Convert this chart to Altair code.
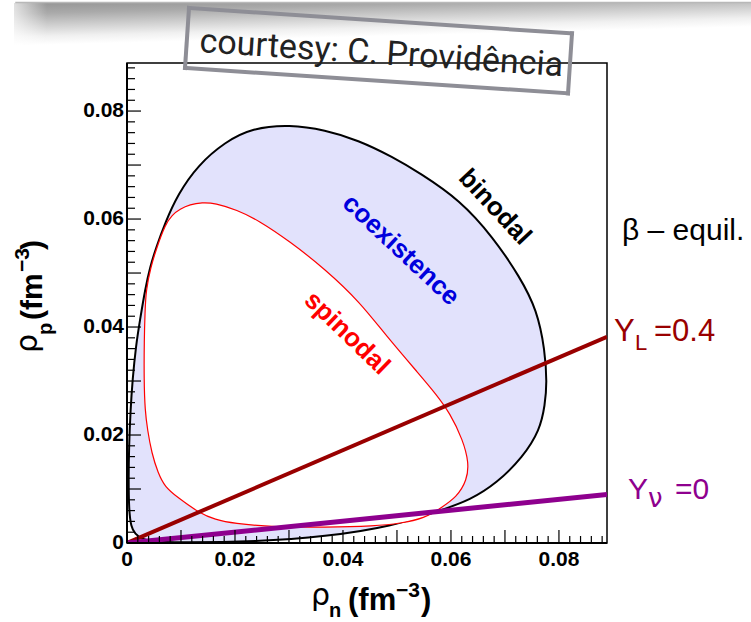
import altair as alt
import pandas as pd

# Binodal boundary, traced once around the closed curve: (rho_n, rho_p) in fm^-3
binodal_n = [0.00463, 0.00278, 0.00148, 0.00074, 0.00037, 0.00028, 0.00037, 0.00065, 0.00102, 0.00167,
             0.00241, 0.00333, 0.00426, 0.00537, 0.00704, 0.00944, 0.01315, 0.01815, 0.02315, 0.03019,
             0.03667, 0.04278, 0.04926, 0.05426, 0.06167, 0.06778, 0.07278, 0.07593, 0.07741, 0.07778,
             0.07741, 0.07648, 0.07333, 0.06852, 0.06352, 0.05833, 0.04907, 0.03667, 0.02426, 0.00889]
binodal_p = [0.00028, 0.00074, 0.00167, 0.00296, 0.00611, 0.01167, 0.01778, 0.02463, 0.03019, 0.03667,
             0.04130, 0.04685, 0.05111, 0.05463, 0.05926, 0.06463, 0.07000, 0.07426, 0.07685, 0.07750,
             0.07648, 0.07463, 0.07148, 0.06852, 0.06352, 0.05667, 0.04926, 0.04315, 0.03574, 0.02963,
             0.02556, 0.02093, 0.01593, 0.01111, 0.00796, 0.00611, 0.00306, 0.00117, 0.00024, 0.00006]

# Spinodal boundary, same orientation
spinodal_n = [0.01352, 0.00926, 0.00704, 0.00574, 0.00457, 0.00380, 0.00333, 0.00315, 0.00319, 0.00333,
              0.00352, 0.00441, 0.00548, 0.00713, 0.00833, 0.00981, 0.01167, 0.01389, 0.01630, 0.02037,
              0.02426, 0.03019, 0.03667, 0.04315, 0.04833, 0.05426, 0.05722, 0.05981, 0.06222, 0.06333,
              0.06296, 0.06111, 0.05796, 0.05519, 0.05056, 0.04593, 0.03667, 0.02741, 0.01963, 0.01630]
spinodal_p = [0.00546, 0.00852, 0.01037, 0.01296, 0.01667, 0.02093, 0.02463, 0.03019, 0.03759, 0.04259,
              0.04685, 0.05111, 0.05463, 0.05907, 0.06074, 0.06185, 0.06269, 0.06306, 0.06296, 0.06167,
              0.05981, 0.05583, 0.05074, 0.04463, 0.03796, 0.03111, 0.02759, 0.02407, 0.01907, 0.01481,
              0.01167, 0.00852, 0.00639, 0.00463, 0.00361, 0.00315, 0.00291, 0.00296, 0.00361, 0.00435]

# beta-equilibrium trajectories
eq_n = [0.0, 0.0889]
yl_p = [0.0, 0.0382]    # Y_L = 0.4
ynu_p = [0.0, 0.0090]   # Y_nu = 0

AXIS_MAX = 0.0889
label_values = [0.0, 0.02, 0.04, 0.06, 0.08]
label_texts = ["0", "0.02", "0.04", "0.06", "0.08"]
major_ticks = [0.0, 0.01, 0.02, 0.03, 0.04, 0.05, 0.06, 0.07, 0.08]
minor_ticks = [round(0.002 * k, 3) for k in range(45) if k % 5 != 0]

W = H = 480
PAD = {"left": 127, "top": 63, "right": 144, "bottom": 79}
FONT = "Liberation Sans"

xs = alt.Scale(domain=[0, AXIS_MAX], nice=False, zero=False)
ys = alt.Scale(domain=[0, AXIS_MAX], nice=False, zero=False)


def X(field):
    return alt.X(field, scale=xs, axis=None)


def Y(field):
    return alt.Y(field, scale=ys, axis=None)


def one_row():
    return pd.DataFrame({"k": [0]})


def text_at(text, x, y, size, color="black", weight="normal", font=FONT,
            angle=0, align="left", baseline="alphabetic"):
    return alt.Chart(one_row()).mark_text(
        text=text, font=font, fontSize=size, fontWeight=weight, color=color,
        angle=angle, align=align, baseline=baseline,
    ).encode(x=alt.value(x), y=alt.value(y))


def segment(x, y, x2, y2, color, width, cap="square"):
    return alt.Chart(one_row()).mark_rule(
        color=color, strokeWidth=width, strokeCap=cap
    ).encode(x=alt.value(x), y=alt.value(y), x2=alt.value(x2), y2=alt.value(y2))


# --- header shadow band along the top edge ---
shadow = alt.Chart(one_row()).mark_rect(
    fill=alt.LinearGradient(
        gradient="linear",
        stops=[alt.GradientStop(color="#959595", offset=0),
               alt.GradientStop(color="#aaaaaa", offset=0.2),
               alt.GradientStop(color="#cfcfcf", offset=0.42),
               alt.GradientStop(color="#f0f0f0", offset=0.62),
               alt.GradientStop(color="#ffffff", offset=0.78)],
        x1=0, y1=0, x2=0.4, y2=1,
    )
).encode(x=alt.value(-113), x2=alt.value(624), y=alt.value(-60), y2=alt.value(-13))

shadow_edge = alt.Chart(one_row()).mark_rect(
    fill=alt.LinearGradient(
        gradient="linear",
        stops=[alt.GradientStop(color="rgba(255,255,255,1)", offset=0),
               alt.GradientStop(color="rgba(255,255,255,0)", offset=1)],
        x1=0, y1=0, x2=1, y2=0,
    )
).encode(x=alt.value(-127), x2=alt.value(-80), y=alt.value(-63), y2=alt.value(-8))

top_line = segment(-111, -60.5, 624, -60.5, "#b8b8b8", 1.5)

# --- regions ---
bin_df = pd.DataFrame({"rho_n": binodal_n, "rho_p": binodal_p, "i": range(len(binodal_n))})
spin_df = pd.DataFrame({"rho_n": spinodal_n, "rho_p": spinodal_p, "i": range(len(spinodal_n))})

binodal = alt.Chart(bin_df).mark_line(
    interpolate="basis-closed", fill="#e2e2fc", stroke="black", strokeWidth=2, clip=True
).encode(x=X("rho_n:Q"), y=Y("rho_p:Q"), order="i:Q")

spinodal = alt.Chart(spin_df).mark_line(
    interpolate="basis-closed", fill="white", stroke="#ff0000", strokeWidth=1.2, clip=True
).encode(x=X("rho_n:Q"), y=Y("rho_p:Q"), order="i:Q")

yl_df = pd.DataFrame({"rho_n": eq_n, "rho_p": yl_p})
ynu_df = pd.DataFrame({"rho_n": eq_n, "rho_p": ynu_p})

yl_line = alt.Chart(yl_df).mark_line(color="#990000", strokeWidth=4, clip=True).encode(
    x=X("rho_n:Q"), y=Y("rho_p:Q"))
ynu_line = alt.Chart(ynu_df).mark_line(color="#8e008e", strokeWidth=5, clip=True).encode(
    x=X("rho_n:Q"), y=Y("rho_p:Q"))

# --- frame: heavier left/bottom axes, inner ticks, tick labels ---
left_axis = segment(0, 0, 0, H, "black", 2, cap="butt")
bottom_axis = segment(0, H, W, H, "black", 2, cap="butt")

maj_df = pd.DataFrame({"v": major_ticks})
min_df = pd.DataFrame({"v": minor_ticks})

x_major = alt.Chart(maj_df).mark_rule(color="black", strokeWidth=1.2).encode(
    x=X("v:Q"), y=alt.value(H), y2=alt.value(H - 13))
x_minor = alt.Chart(min_df).mark_rule(color="black", strokeWidth=1.2).encode(
    x=X("v:Q"), y=alt.value(H), y2=alt.value(H - 7))
y_major = alt.Chart(maj_df).mark_rule(color="black", strokeWidth=1.2).encode(
    y=Y("v:Q"), x=alt.value(0), x2=alt.value(14))
y_minor = alt.Chart(min_df).mark_rule(color="black", strokeWidth=1.2).encode(
    y=Y("v:Q"), x=alt.value(0), x2=alt.value(8))

lab_df = pd.DataFrame({"v": label_values, "txt": label_texts})
x_labels = alt.Chart(lab_df).mark_text(
    font=FONT, fontSize=21, fontWeight="bold", color="black", align="center", baseline="top"
).encode(x=X("v:Q"), y=alt.value(H + 6), text="txt:N")
y_labels = alt.Chart(lab_df).mark_text(
    font=FONT, fontSize=21, fontWeight="bold", color="black", align="right", baseline="middle"
).encode(y=Y("v:Q"), x=alt.value(-3), text="txt:N")

# --- curve labels (placed in data coordinates) ---
curve_labels = pd.DataFrame({
    "rho_n": [0.06815, 0.05074, 0.04074],
    "rho_p": [0.06222, 0.05426, 0.03889],
    "label": ["binodal", "coexistence", "spinodal"],
})


def curve_label(idx, color, angle):
    return alt.Chart(curve_labels.iloc[[idx]]).mark_text(
        font=FONT, fontSize=26, fontWeight="bold", color=color, angle=angle,
        align="center", baseline="middle",
    ).encode(x=X("rho_n:Q"), y=Y("rho_p:Q"), text="label:N")


lab_bin = curve_label(0, "black", 47)
lab_coex = curve_label(1, "#0000dd", 43)
lab_spin = curve_label(2, "#ff0000", 44)

# --- right-hand annotations ---
beta = text_at("β – equil.", 495, 177, 30)
yl_txt = [
    text_at("Y", 487, 278, 31, color="#990000"),
    text_at("L", 508, 287, 22, color="#990000"),
    text_at("=0.4", 527, 278, 31, color="#990000"),
]
ynu_txt = [
    text_at("Y", 501, 436, 30, color="#8e008e"),
    text_at("ν", 521, 444, 26, color="#8e008e", font="DejaVu Sans"),
    text_at("=0", 548, 436, 30, color="#8e008e"),
]

# --- axis titles: rho_n (fm^-3) and rho_p (fm^-3) ---
x_title = [
    text_at("ρ", 184, 542, 30, font="DejaVu Sans"),
    text_at("n", 202, 554, 20, weight="bold"),
    text_at("(fm", 221, 547, 31, weight="bold"),
    text_at("−3", 269, 534, 21, weight="bold"),
    text_at(")", 294, 547, 31, weight="bold"),
]
y_title = [
    text_at("ρ", -90, 290, 30, font="DejaVu Sans", angle=270),
    text_at("p", -75, 272, 20, weight="bold", angle=270),
    text_at("(fm", -85, 257, 30, weight="bold", angle=270),
    text_at("−3", -98, 209, 21, weight="bold", angle=270),
    text_at(")", -85, 187, 30, weight="bold", angle=270),
]

# --- credit box, slightly tilted ---
BOX = "#8e8e96"
credit_box = [
    segment(62, -55, 445, -29.6, BOX, 4),
    segment(445, -29.6, 441, 30.3, BOX, 4),
    segment(441, 30.3, 58, 5, BOX, 4),
    segment(58, 5, 62, -55, BOX, 4),
]
credit_txt = text_at("courtesy: C. Providência", 72, -11, 34, color="#222222",
                     font="Roboto", weight=400, angle=3.8)

chart = alt.layer(
    shadow, shadow_edge, top_line,
    binodal, spinodal, yl_line, ynu_line,
    left_axis, bottom_axis,
    x_major, x_minor, y_major, y_minor, x_labels, y_labels,
    lab_bin, lab_coex, lab_spin,
    beta, *yl_txt, *ynu_txt,
    *x_title, *y_title,
    *credit_box, credit_txt,
).properties(
    width=W, height=H,
    autosize=alt.AutoSizeParams(type="none"),
    padding=PAD,
    background="white",
).configure_view(stroke="black", strokeWidth=1.5)

chart.save("out.html", embed_options={"renderer": "svg", "actions": False})
